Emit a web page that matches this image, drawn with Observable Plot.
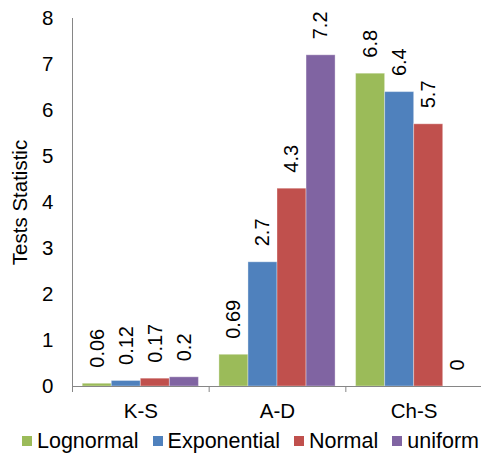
<!DOCTYPE html>
<html>
<head>
<meta charset="utf-8">
<script src="https://cdn.jsdelivr.net/npm/d3@7"></script>
<script src="https://cdn.jsdelivr.net/npm/@observablehq/plot@0.6"></script>
<style>
  html, body { margin: 0; padding: 0; background: #fff; }
  body { width: 481px; height: 458px; overflow: hidden; font-family: "Liberation Sans", Arial, sans-serif; }
  #legend { display: flex; align-items: center; height: 34px; padding-left: 22px; font-size: 21.5px; color: #000; white-space: nowrap; }
  .item { display: flex; align-items: center; margin-right: 14px; }
  .sw { width: 10px; height: 10px; margin-right: 5px; }
</style>
</head>
<body>
<div id="chart"></div>
<div id="legend"></div>
<script>
const tests = ["K-S", "A-D", "Ch-S"];
const series = ["Lognormal", "Exponential", "Normal", "uniform"];
const colors = ["#9BBB59", "#4F81BD", "#C0504D", "#8064A2"];
const lognormal   = [0.06, 0.69, 6.8];
const exponential = [0.12, 2.7, 6.4];
const normal      = [0.17, 4.3, 5.7];
const uniform     = [0.2, 7.2, 0];
const yTicks = [0, 1, 2, 3, 4, 5, 6, 7, 8];

const valuesBySeries = [lognormal, exponential, normal, uniform];
const data = [];
tests.forEach((t, g) => series.forEach((s, k) => {
  data.push({test: t, g, series: s, k, value: valuesBySeries[k][g]});
}));

// layout inside each group (in group units)
const outer = 0.075, bw = (1 - 2 * outer) / series.length;
const left = d => d.g + outer + d.k * bw;

const axisColor = "#868686";
const plot = Plot.plot({
  width: 481,
  height: 424,
  marginLeft: 72,
  marginRight: 0,
  marginTop: 18,
  marginBottom: 38,
  style: {fontFamily: "Liberation Sans, Arial, sans-serif", fontSize: "20px", color: "#000", background: "#fff"},
  x: {domain: [0, tests.length], range: [72, 482]},
  y: {domain: [0, 8], range: [386, 18], label: "Tests Statistic"},
  color: {domain: series, range: colors},
  marks: [
    Plot.rectY(data, {x1: left, x2: d => left(d) + bw, y: "value", fill: "series",
      stroke: "#fff", strokeOpacity: 0.35, strokeWidth: 1}),
    Plot.text(data, {
      x: d => left(d) + bw / 2, y: "value", text: d => String(d.value),
      rotate: -90, textAnchor: "start", lineAnchor: "middle", dy: -16, fontSize: 20, fill: "#000"
    }),
    Plot.ruleX([0], {y1: 0, y2: 8, stroke: axisColor}),
    Plot.ruleY([0], {stroke: axisColor}),
    Plot.axisX({ticks: d3.range(tests.length + 1), tickSize: 6, tickFormat: () => "", stroke: axisColor, label: null}),
    Plot.axisX({ticks: tests.map((t, i) => i + 0.5), tickSize: 0, tickPadding: 17,
      tickFormat: d => tests[Math.floor(d)], fontSize: 20.5, label: null}),
    Plot.axisY({ticks: yTicks, tickSize: 0, tickPadding: 19, fontSize: 20.5,
      label: "Tests Statistic", labelAnchor: "center", labelArrow: "none", labelOffset: 60})
  ]
});
document.getElementById("chart").appendChild(plot);

const legend = document.getElementById("legend");
series.forEach((s, i) => {
  const item = document.createElement("div");
  item.className = "item";
  const sw = document.createElement("div");
  sw.className = "sw";
  sw.style.background = colors[i];
  const lab = document.createElement("span");
  lab.textContent = s;
  item.appendChild(sw);
  item.appendChild(lab);
  legend.appendChild(item);
});
</script>
</body>
</html>
